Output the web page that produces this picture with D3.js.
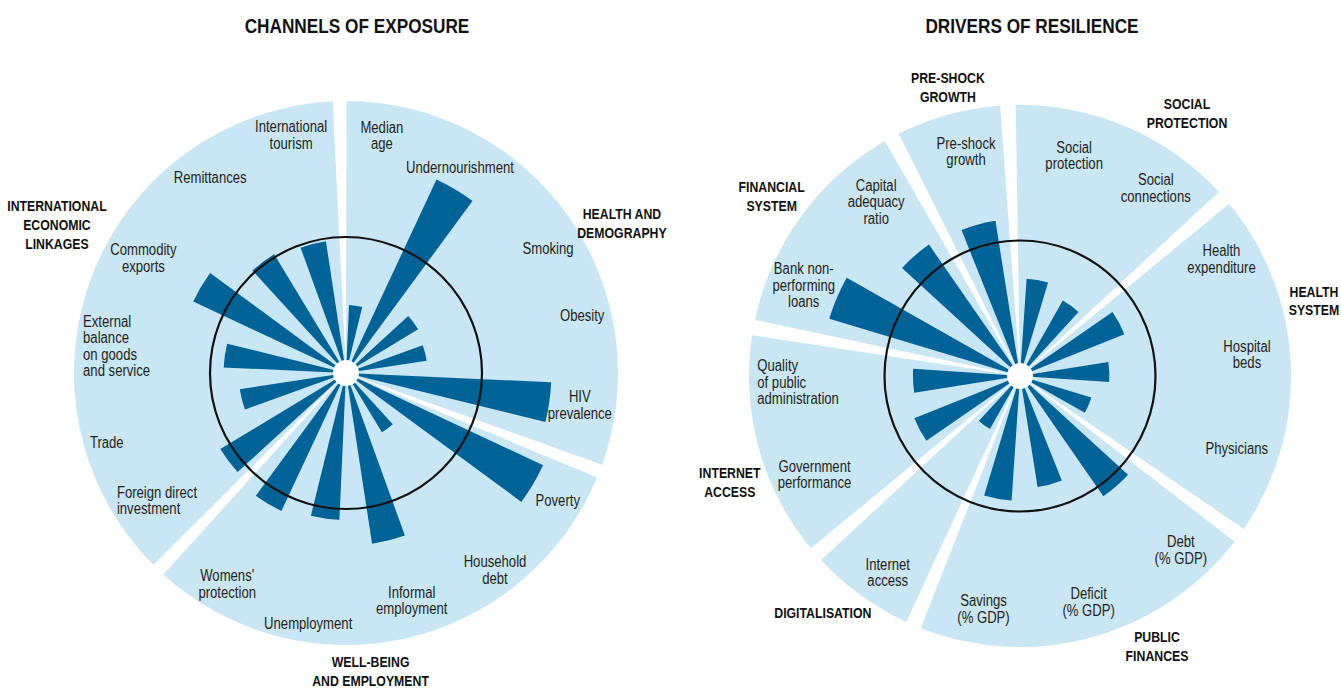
<!DOCTYPE html>
<html>
<head>
<meta charset="utf-8">
<script src="https://cdn.jsdelivr.net/npm/d3@7"></script>
<style>
  body { margin: 0; background: #fff; }
  svg { display: block; font-family: "Liberation Sans", Arial, "DejaVu Sans", sans-serif; }
</style>
</head>
<body>
<svg id="chart" width="1341" height="690"></svg>
<script>
// ---------------- DATA ----------------
const exposureTitle = "CHANNELS OF EXPOSURE";
const exposureGroups = ["HEALTH AND\nDEMOGRAPHY", "WELL-BEING\nAND EMPLOYMENT", "INTERNATIONAL\nECONOMIC\nLINKAGES"];
const exposureCategories = [
  "Median\nage", "Undernourishment", "Smoking", "Obesity", "HIV\nprevalence",
  "Poverty", "Household\ndebt", "Informal\nemployment", "Unemployment", "Womens'\nprotection",
  "Foreign direct\ninvestment", "Trade", "External\nbalance\non goods\nand service", "Commodity\nexports", "Remittances", "International\ntourism"
];
const exposureGroupIndex = [0, 0, 0, 0, 0, 1, 1, 1, 1, 1, 2, 2, 2, 2, 2, 2];
const exposureValues = [0.50, 1.57, 0.62, 0.60, 1.51, 1.60, 0.51, 1.27, 1.08, 1.12, 1.08, 0.79, 0.90, 1.24, 1.02, 0.98];

const resilienceTitle = "DRIVERS OF RESILIENCE";
const resilienceGroups = ["SOCIAL\nPROTECTION", "HEALTH\nSYSTEM", "PUBLIC\nFINANCES", "DIGITALISATION", "INTERNET\nACCESS", "FINANCIAL\nSYSTEM", "PRE-SHOCK\nGROWTH"];
const resilienceCategories = [
  "Social\nprotection", "Social\nconnections", "Health\nexpenditure", "Hospital\nbeds", "Physicians",
  "Debt\n(% GDP)", "Deficit\n(% GDP)", "Savings\n(% GDP)", "Internet\naccess", "Government\nperformance",
  "Quality\nof public\nadministration", "Bank non-\nperforming\nloans", "Capital\nadequacy\nratio", "Pre-shock\ngrowth"
];
const resilienceGroupIndex = [0, 0, 1, 1, 1, 2, 2, 2, 3, 4, 4, 5, 5, 6];
const resilienceValues = [0.72, 0.64, 0.83, 0.66, 0.55, 1.08, 0.83, 0.92, 0.45, 0.84, 0.79, 1.47, 1.18, 1.16];

const referenceValue = 1;   // black reference circle
const scaleMax = 2;         // outer edge of the shaded sectors

// ---------------- LAYOUT / STYLE ----------------
const colors = { sector: "#c9e6f4", bar: "#006398", ring: "#111111", label: "#231f20", group: "#111111" };
const condense = 0.82;      // horizontal squeeze to imitate a condensed typeface
const layout = {
  exposure: {
    cx: 346, cy: 373, outerR: 272, holeR: 13, firstAngle: 8.2, gap: 2.9, sectorShift: 1.7,
    labelR: 240, titleDx: 11,
    groupLabel: [[61.5, 314], [175.3, 299.5], [297.2, 325]],
    nudge: [[0.4, 0], [-1.7, -5], [5.1, -2.5], [0.7, 3], [-0.4, -4], [0.3, 7], [-0.3, 7], [-1.8, -3],
            [0.4, 13], [-1.3, 2], [2.8, -12], [-1.8, 9], [-1.5, -9], [-1.1, -7], [2, -2], [1.3, 4]],
    alignStart: [10, 12]
  },
  resilience: {
    cx: 1020, cy: 376, outerR: 271, holeR: 13, firstAngle: 10.3, gap: 3.3, sectorShift: 0,
    labelR: 231, titleDx: 12,
    groupLabel: [[32.4, 311.7], [75.6, 303.5], [153.1, 302.8], [219.8, 308], [249.9, 309], [305.9, 306.6], [346, 298]],
    nudge: [[3.5, -4], [-0.2, 1], [-1.9, 2], [-2.8, -3], [-4.7, -2.5], [-1.6, 6], [-1.5, 5], [-1.4, 5],
            [-2.1, 6], [2.6, -3], [0.9, -9], [-0.4, 3.5], [1.6, -5], [1.9, 0]],
    alignStart: [10]
  }
};

const svg = d3.select("#chart");
const deg = Math.PI / 180;

// multi-line text block centred on (x, y), squeezed horizontally
function multiline(sel, text, x, y, lh, alignStart) {
  const lines = text.split("\n");
  const holder = sel.append("g").attr("transform", `translate(${x},${y}) scale(${condense},1)`);
  const t = holder.append("text")
    .attr("text-anchor", alignStart ? "start" : "middle")
    .attr("dominant-baseline", "central");
  lines.forEach((ln, k) => {
    t.append("tspan").attr("x", 0).attr("y", (k - (lines.length - 1) / 2) * lh).text(ln);
  });
  if (alignStart) {
    let w = 0;
    t.selectAll("tspan").each(function () { w = Math.max(w, this.getComputedTextLength()); });
    t.selectAll("tspan").attr("x", -w / 2);
  }
  return t;
}

function drawChart(cfg, title, groups, cats, gidx, vals) {
  const n = cats.length;
  const step = 2 * Math.PI / n;
  const a0 = cfg.firstAngle * deg - step / 2;
  const angle = d3.scaleBand().domain(d3.range(n)).range([a0, a0 + 2 * Math.PI])
    .paddingInner(0.5).paddingOuter(0.25);
  const mid = i => angle(i) + angle.bandwidth() / 2;
  const r = d3.scaleLinear().domain([0, scaleMax]).range([0, cfg.outerR]);
  const arc = d3.arc();

  const g = svg.append("g").attr("transform", `translate(${cfg.cx},${cfg.cy})`);

  // shaded group sectors
  const sectors = groups.map((name, k) => {
    const idx = d3.range(n).filter(i => gidx[i] === k);
    return { start: mid(idx[0]) - step / 2, end: mid(idx[idx.length - 1]) + step / 2 };
  });
  const gap = cfg.gap * deg, shift = cfg.sectorShift * deg;
  g.selectAll("path.sector").data(sectors).join("path")
    .attr("class", "sector")
    .attr("fill", colors.sector)
    .attr("d", d => arc({ innerRadius: 0, outerRadius: r(scaleMax),
                          startAngle: d.start + shift + gap / 2, endAngle: d.end + shift - gap / 2 }));

  // bars
  g.selectAll("path.bar").data(vals).join("path")
    .attr("class", "bar")
    .attr("fill", colors.bar)
    .attr("d", (v, i) => arc({ innerRadius: 0, outerRadius: r(v),
                               startAngle: angle(i), endAngle: angle(i) + angle.bandwidth() }));

  // reference ring
  g.append("circle").attr("r", r(referenceValue)).attr("fill", "none")
    .attr("stroke", colors.ring).attr("stroke-width", 2.2);
  // centre hole
  g.append("circle").attr("r", cfg.holeR).attr("fill", "#fff");

  // category labels
  const lg = g.append("g").attr("font-size", 16).attr("fill", colors.label);
  cats.forEach((c, i) => {
    const nd = cfg.nudge[i] || [0, 0];
    const th = mid(i) + nd[0] * deg;
    const rr = cfg.labelR + nd[1];
    multiline(lg, c, rr * Math.sin(th), -rr * Math.cos(th), 16.5, cfg.alignStart.includes(i));
  });

  // group labels
  const gg = g.append("g").attr("font-size", 15).attr("font-weight", "bold").attr("fill", colors.group);
  groups.forEach((name, k) => {
    const [a, rr] = cfg.groupLabel[k];
    multiline(gg, name, rr * Math.sin(a * deg), -rr * Math.cos(a * deg), 19, false);
  });

  // title
  const tg = svg.append("g").attr("transform", `translate(${cfg.cx + cfg.titleDx},33) scale(${condense},1)`);
  tg.append("text").attr("text-anchor", "middle").attr("font-size", 21).attr("font-weight", "bold")
    .attr("fill", colors.group).text(title);
}

drawChart(layout.exposure, exposureTitle, exposureGroups, exposureCategories, exposureGroupIndex, exposureValues);
drawChart(layout.resilience, resilienceTitle, resilienceGroups, resilienceCategories, resilienceGroupIndex, resilienceValues);
</script>
</body>
</html>
